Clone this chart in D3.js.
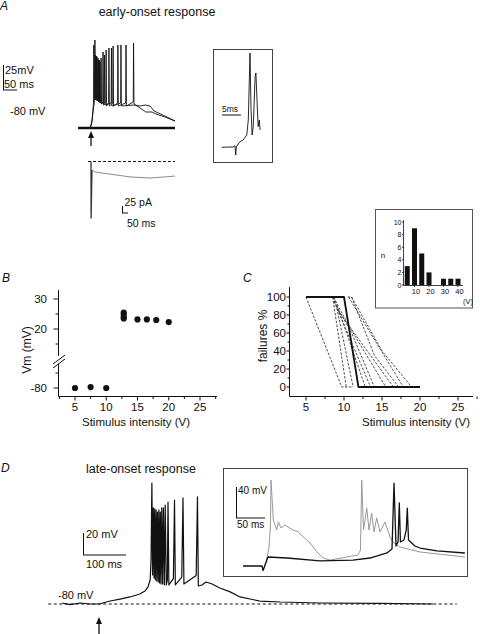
<!DOCTYPE html>
<html><head><meta charset="utf-8">
<script src="https://cdn.jsdelivr.net/npm/d3@7"></script>
<style>
html,body{margin:0;padding:0;background:#fff;}
svg{display:block;font-family:"Liberation Sans",Arial,Helvetica,sans-serif;}
text{fill:#111;}
</style></head><body>
<svg id="fig" width="480" height="634"></svg>
<script>
// ---------------- DATA ----------------
// Panel A: early-onset response, voltage sweeps [ms from stimulus, mV]
const aSweep1 = [[-46,-80],[-4,-80],[0,-78],[4,-73],[7,-64],[11,-56],[13,-50],[14,8],[15.5,-52],[19,-50],[20,-8],[21.5,-53],[24,-52],[25,-10],[26.5,-54],[29,-53],[30,-12],[31.5,-55],[35,-54],[36,-10],[37.5,-56],[42,-55],[43,-4],[44.5,-57],[53,-55],[54,-2],[55.5,-58],[63,-55],[64,0],[65.5,-58],[78,-55],[79,2],[80.5,-58],[95,-55],[96,3],[97.5,-58],[124,-55],[125,3],[126.5,-58],[151,-54],[152,5],[153.5,-56],[175,-60],[196,-64],[218,-64],[232,-66],[264,-69],[300,-73]];
const aSweep2 = [[-46,-80],[-4,-80],[0,-77],[4,-71],[7,-62],[9,-55],[10,3],[11.5,-50],[15,-50],[16,-7],[17.5,-52],[20,-51],[21,-9],[22.5,-53],[26,-52],[27,-12],[28.5,-54],[31,-53],[32,-14],[33.5,-55],[47,-55],[48,-7],[49.5,-57],[72,-55],[73,0],[74.5,-58],[106,-55],[107,3],[108.5,-58],[154,-57],[175,-58],[193,-57],[211,-58],[225,-63],[264,-68],[300,-73]];
const aFailure = [[-46,-80],[300,-80]];
// Panel A: synaptic current [ms, pA]
const aCurrentBase = [[-25,0],[700,0]];
const aArtifact = [[0,0],[1,-202],[8,-30]];
const aCurrent = [[8,-30],[33,-37.5],[158,-45],[325,-55],[492,-59],[617,-55],[700,-52]];
// Panel A inset: spike doublet [ms, mV]
const aInset = [[-3.5,-80.2],[-0.5,-80],[0,-79],[0.2,-86.7],[0.35,-79.8],[1.3,-75.6],[2.1,-74.2],[3.1,-70],[3.5,-57.5],[3.95,-1.7],[4.2,-46.7],[4.5,-70],[4.8,-63],[5.3,-21.4],[5.5,-18.3],[5.9,-49.2],[6.1,-63],[6.4,-57.5],[6.6,-65.8]];

// Panel B: peak Vm vs stimulus intensity
const bIntensity = [5, 7.5, 10, 12.8, 12.8, 12.8, 12.8, 15, 16.5, 18, 20];
const bVm        = [-80, -79.7, -80, 25.5, 24.8, 24, 23.5, 23.2, 23.2, 23, 22.3];
const bXTicks = [5, 10, 15, 20, 25];
const bYTicksUpper = [20, 30];
const bYTicksLower = [-80];

// Panel C: failures % vs stimulus intensity, one line per cell
const cMean = [[5,100],[10,100],[11.9,0],[20,0]];
const cCells = [
  [[5,100],[9.7,0],[11,0]],
  [[8.5,100],[10.3,0]],
  [[8.5,100],[9,90],[11.2,0]],
  [[8.7,100],[12.8,0]],
  [[8.7,95],[13.5,0]],
  [[9,90],[11,60],[14,0]],
  [[9.2,85],[16.5,0]],
  [[10.5,100],[11,100],[14,35],[17.2,0]],
  [[11,100],[15,40],[18.9,0]],
  [[10.6,100],[17.8,0]],
  [[8.6,100],[10.5,70],[15.5,0]]
];
const cXTicks = [5, 10, 15, 20, 25];
const cYTicks = [0, 20, 40, 60, 80, 100];
// Panel C inset histogram
const hBins = [5, 10, 15, 20, 25, 30, 35, 40];
const hCounts = [3, 9, 5, 2, 0, 1, 1, 1];
const hXTicks = [10, 20, 30, 40];
const hYTicks = [0, 2, 4, 6, 8, 10];

// Panel D: late-onset response [ms, mV]
const dTrace = [[-86,-79.1],[-67,-80.5],[-44,-79.1],[-21,-80],[0,-80],[9,-79.1],[26,-77.3],[49,-75.5],[72,-73.6],[95,-70.9],[107,-68.2],[114,-64.5],[119,-58.2],[121,-40],[123,30],[124.6,-53.6],[126.3,7.3],[128,-56.4],[129.5,6.4],[131,-58.2],[132.8,5.5],[134.4,-59.1],[136,3.6],[137.7,-60],[139.3,5.5],[140.9,-60.9],[142.6,3.6],[144.2,-61.8],[146,7.3],[147.9,-61.8],[149.8,7.3],[151.9,-62.7],[154,10],[156.5,-62.7],[159,-58],[160.5,12.7],[162.5,-62.7],[173,-57],[175.6,14.5],[177.5,-62.7],[192.5,-55.5],[195.3,16.4],[197.5,-61.8],[226,-54],[229,17.3],[231,-63.6],[239.5,-62.7],[249,-60],[263,-61.8],[281,-65.5],[305,-69],[328,-73.6],[374,-77.3],[421,-78.2],[514,-79.1],[653,-79.5],[777,-80]];
const dRest = [[-118,-80],[832,-80]];
// Panel D inset: two sweeps [ms, mV]
const dInsetBlack = [[-34.5,-80],[-1.7,-80],[0,-85.8],[1.7,-82.6],[8.6,-68.4],[41.4,-69.7],[98.3,-73.5],[155,-72.3],[184.5,-69.7],[213.8,-63.2],[222.4,-58],[225.9,27],[229.3,-54.2],[232.8,-49],[235,1.3],[237,-49],[243,-46.5],[247,-33.5],[248.8,-5.2],[250.9,-46.5],[262,-54.2],[270.7,-56.8],[300,-60.6],[348,-63.2]];
const dInsetGray = [[-1.7,-80],[0,-85.2],[5.2,-74.8],[10.3,-56.8],[12.9,-27.1],[13.8,31],[17.8,-20.7],[23.6,-33.6],[26.4,-22.9],[31,-31],[37.9,-27.1],[43.1,-29.7],[51.7,-33.6],[60.3,-35.8],[69,-42.2],[81,-50.3],[92.6,-61.6],[103.4,-69.7],[115.5,-72.3],[144.3,-68.4],[163.8,-65.8],[168,-59.4],[170.2,31],[173.3,-33.6],[178.8,-5.2],[182.8,-33.6],[187.4,-11.6],[191.4,-36.1],[196,-18],[201.7,-36.1],[210.3,-23.2],[219,-42.6],[224,-49],[236,-55.5],[270.7,-61.9],[348,-68.4]];

// ---------------- DRAW ----------------
const svg = d3.select("#fig");
svg.append("rect").attr("width",480).attr("height",634).attr("fill","#fff");
const INK = "#111", GRAY = "#8a8a8a";

function trace(g, data, sx, sy, color, w, dash){
  const p = g.append("path").datum(data)
    .attr("d", d3.line().x(d=>sx(d[0])).y(d=>sy(d[1])))
    .attr("fill","none").attr("stroke",color).attr("stroke-width",w)
    .attr("stroke-linejoin","round");
  if (dash) p.attr("stroke-dasharray", dash);
  return p;
}
function txt(x,y,s,size,opts={}){
  const t = svg.append("text").attr("x",x).attr("y",y).text(s).attr("font-size",size);
  if (opts.anchor) t.attr("text-anchor",opts.anchor);
  if (opts.italic) t.attr("font-style","italic");
  if (opts.rotate) t.attr("transform",`rotate(-90,${x},${y})`);
  return t;
}
function seg(x1,y1,x2,y2,w=1,color=INK,dash){
  const l = svg.append("line").attr("x1",x1).attr("y1",y1).attr("x2",x2).attr("y2",y2)
    .attr("stroke",color).attr("stroke-width",w);
  if (dash) l.attr("stroke-dasharray",dash);
  return l;
}
function arrow(x, yTip, yEnd){
  seg(x, yTip+4, x, yEnd, 1.3);
  svg.append("path").attr("d",`M${x},${yTip} L${x-3},${yTip+7} L${x+3},${yTip+7} Z`).attr("fill",INK);
}

// ===== Panel A =====
txt(0,10,"A",12,{italic:true});
txt(157,16,"early-onset response",12.5,{anchor:"middle"});
const aX = d3.scaleLinear().domain([0,50]).range([91,105]);
const aY = d3.scaleLinear().domain([-80,-55]).range([128,103]);
const gA = svg.append("g");
trace(gA, aFailure, aX, aY, INK, 2.4);
trace(gA, aSweep2, aX, aY, INK, 0.9);
trace(gA, aSweep1, aX, aY, INK, 0.9);
// scale bar 25 mV / 50 ms
{
  const h = aY(-80)-aY(-55), w = aX(50)-aX(0);
  seg(3.5,90-h,3.5,90,1); seg(3,90,3+w,90,1);
  txt(5,74,"25mV",11); txt(4,88,"50 ms",11);
}
txt(10,115,"-80 mV",11);
arrow(aX(0), 131, 146);
// current
const aIX = d3.scaleLinear().domain([0,50]).range([91,97]);
const aIY = d3.scaleLinear().domain([0,-25]).range([161.5,168.5]);
trace(gA, aCurrentBase, aIX, aIY, INK, 1, "3,2");
trace(gA, aArtifact, aIX, aIY, "#333", 1.3);
trace(gA, aCurrent, aIX, aIY, GRAY, 1);
{
  const h = aIY(-25)-aIY(0), w = aIX(50)-aIX(0);
  seg(122.5,213-h,122.5,213,1); seg(122,213,122+w,213,1);
  txt(124.5,206,"25 pA",10.5); txt(127,227,"50 ms",10.5);
}
// inset A
svg.append("rect").attr("x",213.5).attr("y",49.5).attr("width",59).attr("height",113)
  .attr("fill","none").attr("stroke","#444").attr("stroke-width",1);
const aInX = d3.scaleLinear().domain([0,5]).range([235,254]);
const aInY = d3.scaleLinear().domain([-80,-30]).range([147,87]);
trace(gA, aInset, aInX, aInY, INK, 0.9);
{
  const w = aInX(5)-aInX(0);
  seg(222,115,222+w,115,1);
  txt(222,112,"5ms",8.5);
}

// ===== Panel B =====
txt(2,282,"B",12,{italic:true});
const bX = d3.scaleLinear().domain([5,25]).range([75,200]);
const bYu = d3.scaleLinear().domain([20,30]).range([329,299]);
const bYl = d3.scaleLinear().domain([-80,-70]).range([388,358]);
const bAxX = 58.5;
const gB = svg.append("g");
gB.append("line").attr("x1",bAxX).attr("x2",217).attr("y1",396.5).attr("y2",396.5).attr("stroke",INK);
d3.range(2.5,27.6,2.5).forEach(v=>{
  const major = bXTicks.includes(v);
  seg(bX(v),396.5,bX(v),396.5+(major?4:2.5),1);
});
bXTicks.forEach(v=>txt(bX(v),411,String(v),11.5,{anchor:"middle"}));
txt(136,426,"Stimulus intensity (V)",11.5,{anchor:"middle"});
seg(bAxX, bYu(33), bAxX, 356, 1);
seg(bAxX, 364, bAxX, 396.5, 1);
seg(53,364,65,355,1); seg(53,368,65,359,1);
bYTicksUpper.forEach(v=>{ seg(bAxX-5,bYu(v),bAxX,bYu(v),1); txt(47,bYu(v)+4,String(v),11.5,{anchor:"end"}); });
[15,25].forEach(v=>seg(bAxX-3,bYu(v),bAxX,bYu(v),1));
bYTicksLower.forEach(v=>{ seg(bAxX-5,bYl(v),bAxX,bYl(v),1); txt(47,bYl(v)+4,String(v),11.5,{anchor:"end"}); });
seg(bAxX-3,bYl(-75),bAxX,bYl(-75),1);
txt(31,350,"Vm (mV)",12,{anchor:"middle",rotate:true});
gB.selectAll("circle").data(bIntensity).join("circle")
  .attr("cx",d=>bX(d)).attr("cy",(d,i)=> bVm[i] > 0 ? bYu(bVm[i]) : bYl(bVm[i]))
  .attr("r",3.1).attr("fill",INK);

// ===== Panel C =====
txt(243,282,"C",12,{italic:true});
const cX = d3.scaleLinear().domain([5,25]).range([306,458]);
const cY = d3.scaleLinear().domain([0,100]).range([387,297]);
const gC = svg.append("g");
seg(289.5,cY(111),289.5,396.5,1);
seg(289.5,396.5,473,396.5,1);
d3.range(2.5,27.6,2.5).filter(v=>cX(v)>289).forEach(v=>{
  const major = cXTicks.includes(v);
  seg(cX(v),396.5,cX(v),396.5+(major?4:2.5),1);
});
cXTicks.forEach(v=>txt(cX(v),411,String(v),11.5,{anchor:"middle"}));
txt(470,426,"Stimulus intensity (V)",11.5,{anchor:"end"});
cYTicks.forEach(v=>{ seg(286.5,cY(v),289.5,cY(v),1); txt(286,cY(v)+4,String(v),11.5,{anchor:"end"}); });
d3.range(10,110,20).forEach(v=>seg(287.5,cY(v),289.5,cY(v),1));
txt(267,336,"failures %",12,{anchor:"middle",rotate:true});
cCells.forEach(c=>trace(gC, c, cX, cY, "#222", 0.8, "2.5,1.5"));
trace(gC, cMean, cX, cY, INK, 1.8);
// inset histogram
svg.append("rect").attr("x",375.5).attr("y",209.5).attr("width",97).attr("height",98.5)
  .attr("fill","#fff").attr("stroke","#555").attr("stroke-width",1);
const hX = d3.scaleLinear().domain([0,45]).range([400,465.25]);
const hY = d3.scaleLinear().domain([0,10]).range([285,222]);
const gH = svg.append("g");
gH.selectAll("rect").data(hBins).join("rect")
  .attr("x",d=>hX(d)-2.5).attr("width",5)
  .attr("y",(d,i)=>hY(hCounts[i])).attr("height",(d,i)=>hY(0)-hY(hCounts[i]))
  .attr("fill",INK);
seg(403.5,hY(10.3),403.5,285.5,0.8);
seg(403.5,285.5,463,285.5,0.8);
hYTicks.forEach(v=>{ seg(402,hY(v),403.5,hY(v),0.8); txt(401.5,hY(v)+2.5,String(v),7,{anchor:"end"}); });
hXTicks.forEach(v=>{ seg(hX(v),285.5,hX(v),287,0.8); txt(hX(v)+1.5,294,String(v),7.5,{anchor:"middle"}); });
txt(468,304,"(V)",7.5,{anchor:"middle"});
txt(383,258,"n",8,{anchor:"middle"});

// ===== Panel D =====
txt(1,472,"D",12,{italic:true});
txt(141,473,"late-onset response",12.5,{anchor:"middle"});
const dX = d3.scaleLinear().domain([0,100]).range([99,142]);
const dY = d3.scaleLinear().domain([-80,-60]).range([604,582]);
const gD = svg.append("g");
trace(gD, dRest, dX, dY, INK, 1, "3,2.5");
trace(gD, dTrace, dX, dY, INK, 1.2);
{
  const h = dY(-80)-dY(-60), w = dX(100)-dX(0);
  seg(83.5,555-h,83.5,555,1); seg(83,555,83+w,555,1);
  txt(86,538,"20 mV",11); txt(86,568,"100 ms",11);
}
txt(58,599,"-80 mV",11);
arrow(dX(0), 617, 634);
// inset D
svg.append("rect").attr("x",223.5).attr("y",468.5).attr("width",244).attr("height",108)
  .attr("fill","none").attr("stroke","#444").attr("stroke-width",1);
const diX = d3.scaleLinear().domain([0,50]).range([263,292]);
const diY = d3.scaleLinear().domain([-80,-40]).range([566,535]);
trace(gD, dInsetGray, diX, diY, "#999", 1);
trace(gD, dInsetBlack, diX, diY, INK, 1.3);
{
  const h = diY(-80)-diY(-40), w = diX(50)-diX(0);
  seg(236.5,518-h,236.5,518,1); seg(236,518,236+w,518,1);
  txt(238,494,"40 mV",10); txt(237,528,"50 ms",10);
}
</script>
</body></html>
